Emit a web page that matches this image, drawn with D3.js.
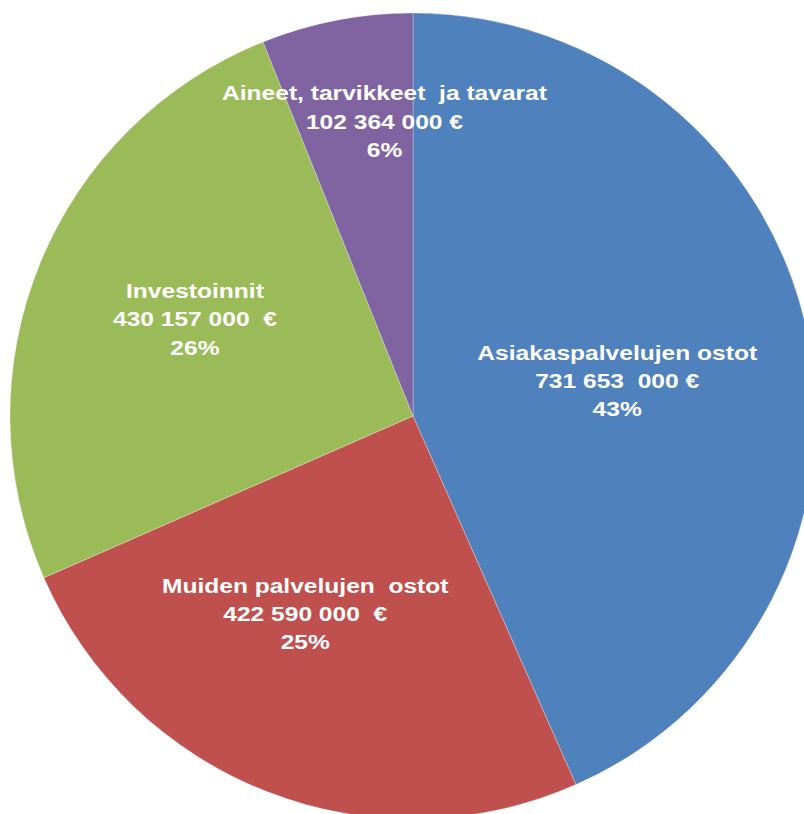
<!DOCTYPE html>
<html>
  <head>
    <meta charset="utf-8" />
    <title>Ostot</title>
    <script src="https://d3js.org/d3.v7.min.js"></script>
    <style>
      body { margin: 0; background: #fff; }
      text { font-family: "Liberation Sans", Arial, sans-serif; font-weight: bold; white-space: pre; }
    </style>
  </head>
  <body>
    <div id="chart"></div>
    <script>
      // Data
      const categories = [
        "Asiakaspalvelujen ostot",
        "Muiden palvelujen  ostot",
        "Investoinnit",
        "Aineet, tarvikkeet  ja tavarat"
      ];
      const values = [731653000, 422590000, 430157000, 102364000];
      const valueLabels = ["731 653  000 €", "422 590 000  €", "430 157 000  €", "102 364 000 €"];
      const colors = ["#4F81BD", "#C0504D", "#9BBB59", "#8064A2"];

      const width = 804, height = 814;
      const cx = 413, cy = 416, r = 403;

      // label placement: radius factor and small nudge
      const labelRadius = [0.5, 0.56, 0.59, 0.74];
      const labelNudge = [[7, 6], [-26, -13], [2, -7], [28, -2]];

      const svg = d3.select("#chart").append("svg")
        .attr("width", width).attr("height", height);

      const pie = d3.pie().sort(null).value(d => d);
      const arcs = pie(values);
      const total = d3.sum(values);

      const arc = d3.arc().innerRadius(0).outerRadius(r);

      const g = svg.append("g").attr("transform", `translate(${cx},${cy})`);

      g.selectAll("path")
        .data(arcs)
        .join("path")
        .attr("d", arc)
        .attr("fill", (d, i) => colors[i])
        .attr("stroke", "rgba(255,255,255,0.35)")
        .attr("stroke-width", 0.8);

      const labels = g.selectAll("g.label")
        .data(arcs)
        .join("g")
        .attr("class", "label")
        .attr("transform", (d, i) => {
          const la = d3.arc().innerRadius(r * labelRadius[i]).outerRadius(r * labelRadius[i]);
          const [x, y] = la.centroid(d);
          return `translate(${x + labelNudge[i][0]},${y + labelNudge[i][1]}) scale(1.17,1)`;
        });

      labels.each(function(d, i) {
        const lines = [categories[i], valueLabels[i], Math.round(d.value / total * 100) + "%"];
        d3.select(this).selectAll("text")
          .data(lines)
          .join("text")
          .attr("text-anchor", "middle")
          .attr("y", (t, j) => (j - 1) * 28.3 + 7.5)
          .attr("fill", "#fff")
          .attr("font-size", 21)
          .text(t => t);
      });
    </script>
  </body>
</html>
